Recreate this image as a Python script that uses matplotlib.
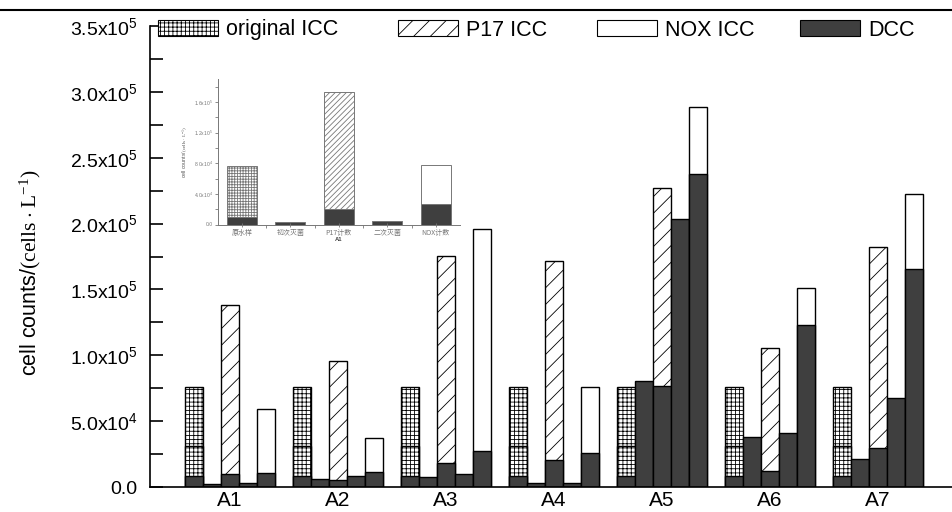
import matplotlib
matplotlib.use("Agg")
import matplotlib.pyplot as plt
from matplotlib.patches import Patch
from matplotlib.lines import Line2D
from matplotlib.ticker import MultipleLocator, FixedLocator
import numpy as np

plt.rcParams['font.family'] = ['Liberation Sans', 'DejaVu Sans']
plt.rcParams['mathtext.fontset'] = 'custom'
plt.rcParams['mathtext.rm'] = 'Liberation Serif'
plt.rcParams['mathtext.default'] = 'regular'
plt.rcParams['hatch.linewidth'] = 0.6

# ---------------- data ----------------
groups = ['A1', 'A2', 'A3', 'A4', 'A5', 'A6', 'A7']
orig_icc = [76000, 76000, 76000, 76000, 76000, 76000, 76000]
orig_split = [31000, 31000, 31000, 31000, 31000, 31000, 31000]
orig_dcc = [8600, 8600, 8600, 8600, 8600, 8600, 8600]
first_dcc = [2300, 6100, 7300, 2800, 80300, 38200, 21300]
p17_icc = [138000, 95600, 175300, 171800, 226700, 105700, 182400]
p17_dcc = [9900, 5300, 18200, 20500, 76900, 12000, 29400]
second_dcc = [3300, 8600, 9900, 3300, 203200, 40700, 67800]
nox_icc = [59200, 37000, 195800, 75700, 288200, 151300, 222100]
nox_dcc = [10900, 11600, 27600, 26000, 237600, 123000, 165200]

yticks = [0, 50000, 100000, 150000, 200000, 250000, 300000, 350000]
ytick_labels = ['0.0', '5.0x10$^{4}$', '1.0x10$^{5}$', '1.5x10$^{5}$',
                '2.0x10$^{5}$', '2.5x10$^{5}$', '3.0x10$^{5}$', '3.5x10$^{5}$']
legend_labels = ['original ICC', 'P17 ICC', 'NOX ICC', 'DCC']

inset_cats = ['原水样', '初次灭菌', 'P17计数', '二次灭菌', 'NOX计数']
inset_icc = [76700, 0, 173500, 0, 77500]
inset_dcc = [10000, 3000, 20500, 4300, 26500]
inset_yticks = [0, 40000, 80000, 120000, 160000]
inset_ytick_labels = ['0.0', '4.0x10$^{4}$', '8.0x10$^{4}$', '1.2x10$^{5}$', '1.6x10$^{5}$']
inset_group = 'A1'

DARK = '#3f3f3f'
GRID_H = '++++'
DIAG_H = '//'

W, H = 953, 512
fig = plt.figure(figsize=(W / 100, H / 100), dpi=100)
ax = fig.add_axes([150 / W, 1 - 487 / H, 1 - 150 / W, (487 - 26) / H])

centers = np.arange(len(groups)) * 6.0
w = 1.0
kw = dict(width=w, edgecolor='black', linewidth=1.0)

ax.bar(centers - 2, orig_icc, facecolor='white', hatch=GRID_H, **kw)
ax.bar(centers - 2, orig_split, facecolor='white', hatch=GRID_H, **kw)
ax.bar(centers - 2, orig_dcc, facecolor=DARK, **kw)
ax.bar(centers - 1, first_dcc, facecolor=DARK, **kw)
ax.bar(centers, p17_icc, facecolor='white', hatch=DIAG_H, **kw)
ax.bar(centers, p17_dcc, facecolor=DARK, **kw)
ax.bar(centers + 1, second_dcc, facecolor=DARK, **kw)
ax.bar(centers + 2, nox_icc, facecolor='white', **kw)
ax.bar(centers + 2, nox_dcc, facecolor=DARK, **kw)

ax.set_xlim(-4.42, 40.19)
ax.set_ylim(0, 350000)
ax.set_xticks(centers)
ax.set_xticklabels(groups, fontsize=15)
ax.tick_params(axis='x', length=0, pad=3)
ax.set_yticks(yticks)
ax.set_yticklabels(ytick_labels, fontsize=14)
ax.yaxis.set_minor_locator(MultipleLocator(25000))
ax.tick_params(axis='y', which='both', direction='in', length=9, width=1.2, pad=9)
for s in ['top', 'right']:
    ax.spines[s].set_visible(False)
for s in ['left', 'bottom']:
    ax.spines[s].set_linewidth(1.2)
ax.set_ylabel('cell counts/' + r'$\mathrm{(cells\cdot L^{-1})}$', fontsize=15.5)
ax.yaxis.set_label_coords((43 - 150) / 803, (487 - 273) / 461)

handles = [Patch(facecolor='white', edgecolor='black', hatch=GRID_H, linewidth=0.8),
           Patch(facecolor='white', edgecolor='black', hatch=DIAG_H, linewidth=0.8),
           Patch(facecolor='white', edgecolor='black', linewidth=0.8),
           Patch(facecolor=DARK, edgecolor='black', linewidth=0.8)]
legend_x = [158, 398, 597, 800]
for h, lab, lx in zip(handles, legend_labels, legend_x):
    fig.legend([h], [lab], loc='center left', bbox_to_anchor=(lx / W, 1 - 30 / H),
               frameon=False, fontsize=15.5, handlelength=2.8, handleheight=0.8,
               handletextpad=0.35, borderpad=0, borderaxespad=0)

fig.add_artist(Line2D([0, 1], [1 - 10 / H, 1 - 10 / H], color='black', linewidth=1.5,
                      transform=fig.transFigure))

# ---------------- inset ----------------
GRAY = '#777777'
ins = fig.add_axes([217.7 / W, 1 - 224.5 / H, (460 - 217.7) / W, (224.5 - 79) / H])
ix = np.arange(len(inset_cats))
iw = 0.62
ikw = dict(width=iw, edgecolor=GRAY, linewidth=0.7)
ins.bar(ix[[0]], [inset_icc[0]], facecolor='white', hatch='++++++', **ikw)
ins.bar(ix[[2]], [inset_icc[2]], facecolor='white', hatch='//////', **ikw)
ins.bar(ix[[4]], [inset_icc[4]], facecolor='white', **ikw)
ins.bar(ix, inset_dcc, facecolor=DARK, **ikw)
ins.set_xlim(-0.5, 4.5)
ins.set_ylim(0, 190000)
ins.set_yticks(inset_yticks)
ins.set_yticklabels(inset_ytick_labels, fontsize=3.6, color='#555555')
ins.yaxis.set_minor_locator(MultipleLocator(20000))
ins.set_xticks(ix)
ins.set_xticklabels(inset_cats, fontsize=5, color='#555555',
                    family=['Noto Sans CJK SC', 'DejaVu Sans'])
ins.xaxis.set_minor_locator(FixedLocator(ix[:-1] + 0.5))
ins.tick_params(axis='both', which='both', direction='out', length=2, width=0.6,
                colors=GRAY, pad=1.5)
ins.tick_params(axis='x', which='major', direction='inout', length=3)
ins.set_xlabel(inset_group, fontsize=4.2, labelpad=0.5, color='#444444', fontweight='bold')
ins.set_ylabel('cell counts/' + r'$\mathrm{(cells\cdot L^{-1})}$', fontsize=3.8,
               color='#555555', labelpad=3)
for s in ['top', 'right']:
    ins.spines[s].set_visible(False)
for s in ['left', 'bottom']:
    ins.spines[s].set_color(GRAY)
    ins.spines[s].set_linewidth(0.7)
ins.patch.set_alpha(0)

fig.savefig('out.png', dpi=100)
